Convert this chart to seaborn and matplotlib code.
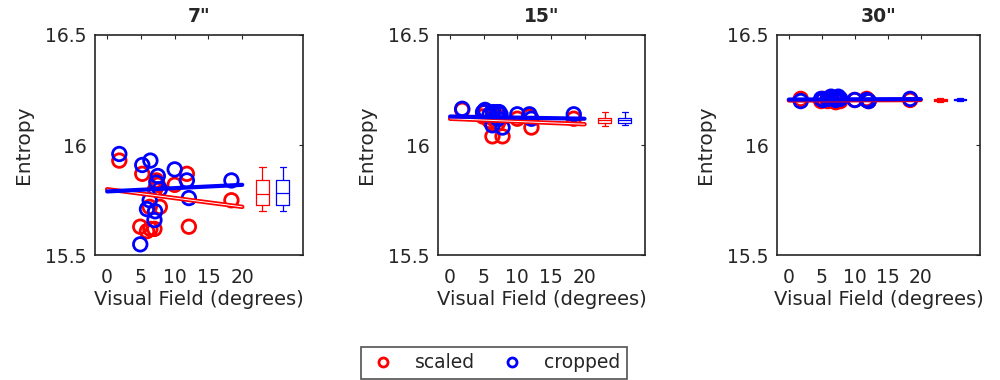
import numpy as np
import pandas as pd
import matplotlib
matplotlib.use("Agg")
import matplotlib.pyplot as plt
import seaborn as sns
from matplotlib.lines import Line2D

# visual field (degrees) of each sample, shared by all panels
visual_field = [1.8, 4.9, 5.2, 5.9, 6.3, 6.4, 7.0, 7.1, 7.3, 7.5, 7.8, 10.0, 11.8, 12.1, 18.4]

panels = ['7"', '15"', '30"']

scaled_7 = [15.93, 15.63, 15.87, 15.61, 15.72, 15.62, 15.62, 15.80, 15.84, 15.82, 15.72, 15.82, 15.87, 15.63, 15.75]
cropped_7 = [15.96, 15.55, 15.91, 15.71, 15.75, 15.93, 15.66, 15.70, 15.83, 15.86, 15.80, 15.89, 15.84, 15.76, 15.84]
scaled_15 = [16.16, 16.13, 16.15, 16.11, 16.04, 16.12, 16.13, 16.10, 16.14, 16.12, 16.04, 16.12, 16.13, 16.08, 16.12]
cropped_15 = [16.165, 16.15, 16.16, 16.14, 16.09, 16.15, 16.15, 16.12, 16.15, 16.14, 16.08, 16.14, 16.14, 16.12, 16.14]
scaled_30 = [16.21, 16.20, 16.21, 16.20, 16.205, 16.21, 16.20, 16.195, 16.21, 16.20, 16.20, 16.205, 16.21, 16.20, 16.205]
cropped_30 = [16.20, 16.21, 16.205, 16.21, 16.215, 16.22, 16.21, 16.205, 16.21, 16.22, 16.21, 16.205, 16.205, 16.20, 16.21]

# least squares fit end points (x = 0 and x = 20)
fit_x = [0, 20]
fit_scaled = [[15.80, 15.72], [16.12, 16.095], [16.203, 16.205]]
fit_cropped = [[15.79, 15.82], [16.13, 16.12], [16.207, 16.209]]

# box summaries: whisker low, q1, median, q3, whisker high
box_scaled = [[15.70, 15.73, 15.78, 15.84, 15.90],
              [16.088, 16.10, 16.112, 16.123, 16.15],
              [16.198, 16.202, 16.205, 16.208, 16.212]]
box_cropped = [[15.70, 15.73, 15.785, 15.84, 15.90],
               [16.09, 16.10, 16.113, 16.125, 16.15],
               [16.20, 16.204, 16.207, 16.21, 16.214]]
box_pos = [23, 26]

scaled_all = [scaled_7, scaled_15, scaled_30]
cropped_all = [cropped_7, cropped_15, cropped_30]

sns.set_style("white")
plt.rcParams['font.family'] = ['DejaVu Sans']

RED = (1, 0, 0)
BLUE = (0, 0, 1)
INK = '#262626'

fig = plt.figure(figsize=(10, 3.8), dpi=100)
lefts = [0.095, 0.438, 0.777]
widths = [0.208, 0.207, 0.203]

for i, name in enumerate(panels):
    ax = fig.add_axes([lefts[i], 0.328, widths[i], 0.58])

    # open circles, one call per series
    for vals, col in [(scaled_all[i], RED), (cropped_all[i], BLUE)]:
        sns.scatterplot(x=visual_field, y=vals, color=col, marker='o', s=95,
                        linewidth=2, legend=False, ax=ax)
        pts = ax.collections[-1]
        pts.set_facecolor('none')
        pts.set_edgecolor(col)

    # scaled fit drawn as a double line, cropped as one thick line
    fit_df = pd.DataFrame({'x': fit_x, 'y': fit_scaled[i]})
    sns.lineplot(data=fit_df, x='x', y='y', color=RED, lw=3.2, ax=ax)
    sns.lineplot(data=fit_df, x='x', y='y', color='white', lw=0.7, ax=ax)
    fit_df = pd.DataFrame({'x': fit_x, 'y': fit_cropped[i]})
    sns.lineplot(data=fit_df, x='x', y='y', color=BLUE, lw=3, ax=ax)

    for src, pos, col in [(box_scaled[i], box_pos[0], RED), (box_cropped[i], box_pos[1], BLUE)]:
        st = dict(whislo=src[0], q1=src[1], med=src[2], q3=src[3], whishi=src[4], fliers=[])
        ax.bxp([st], positions=[pos], widths=1.9, showfliers=False,
               boxprops=dict(color=col, lw=0.9),
               whiskerprops=dict(color=col, lw=0.9, linestyle='-'),
               capprops=dict(color=col, lw=0.9),
               medianprops=dict(color=col, lw=0.9),
               capwidths=0.9, manage_ticks=False)

    ax.set_xlim(-1.8, 29)
    ax.set_ylim(15.5, 16.5)
    ax.set_xticks([0, 5, 10, 15, 20])
    ax.set_yticks([15.5, 16, 16.5])
    ax.set_yticklabels(['15.5', '16', '16.5'])
    ax.tick_params(direction='in', length=3, top=True, right=True,
                   labelsize=13.5, color=INK, labelcolor=INK)
    ax.tick_params(axis='x', pad=9)
    ax.tick_params(axis='y', pad=6)
    for sp in ax.spines.values():
        sp.set_color(INK)
        sp.set_linewidth(1.2)
    ax.set_xlabel('Visual Field (degrees)', fontsize=14, color=INK, labelpad=2)
    ax.set_ylabel('Entropy', fontsize=14.5, color=INK, labelpad=9)
    ax.set_title(name, fontsize=13.5, fontweight='bold', pad=9)

handles = [Line2D([], [], marker='o', ls='none', mfc='none', mec=RED, mew=2, ms=6.5),
           Line2D([], [], marker='o', ls='none', mfc='none', mec=BLUE, mew=2, ms=6.5)]
leg = fig.legend(handles, ['scaled', 'cropped'], loc='lower center',
                 bbox_to_anchor=(0.494, -0.012), ncol=2, fontsize=13.5,
                 frameon=True, fancybox=False, edgecolor=INK,
                 handlelength=1.6, handletextpad=0.9, columnspacing=1.2,
                 borderpad=0.35, borderaxespad=0.3)
leg.get_frame().set_linewidth(1.2)

fig.savefig('out.png', dpi=100)
